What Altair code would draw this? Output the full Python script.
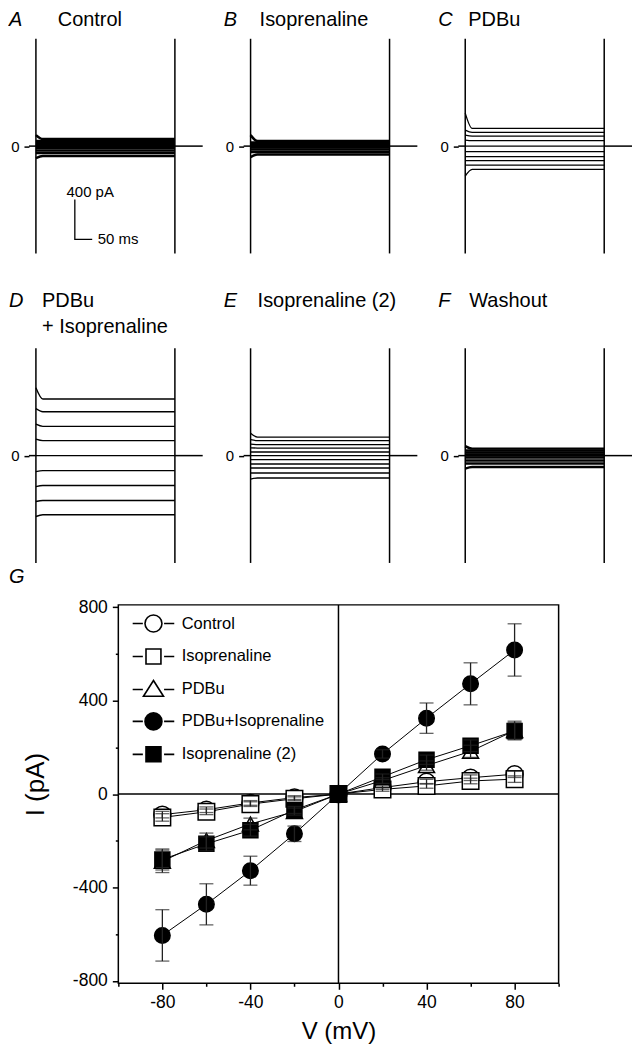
import altair as alt
import pandas as pd

FONT = "Liberation Sans"

# ---------------- Panels A-F : current traces ----------------
panel_ids = ["A", "B", "C", "D", "E", "F"]
panel_names = ["Control", "Isoprenaline", "PDBu", "PDBu\n+ Isoprenaline", "Isoprenaline (2)", "Washout"]

# steady-state current (pA) of each voltage step, and value at step onset
levels_A = [70, 50, 30, 12, 0, -20, -45, -70, -100]
onset_A = [110, 50, 30, 12, 0, -20, -45, -70, -120]
levels_B = [50, 35, 20, 8, 0, -15, -35, -60, -85]
onset_B = [110, 35, 20, 8, 0, -15, -35, -60, -110]
levels_C = [177, 137, 100, 54, 0, -56, -106, -146, -190, -233]
onset_C = [330, 160, 110, 60, 0, -56, -106, -146, -190, -300]
levels_D = [567, 440, 293, 150, 0, -150, -300, -450, -593]
onset_D = [680, 470, 315, 165, 0, -160, -310, -460, -610]
levels_E = [186, 150, 110, 76, 36, 0, -40, -84, -124, -174, -224]
onset_E = [225, 160, 115, 78, 36, 0, -40, -84, -124, -174, -235]
levels_F = [70, 50, 30, 12, 0, -20, -50, -80, -115]
onset_F = [95, 50, 30, 12, 0, -20, -50, -80, -130]

levels = [levels_A, levels_B, levels_C, levels_D, levels_E, levels_F]
onsets = [onset_A, onset_B, onset_C, onset_D, onset_E, onset_F]

# step protocol timing (ms)
T_MIN, STEP_ON, SETTLE, STEP_OFF, T_MAX = -20, 0, 20, 400, 480
edge_times = [STEP_ON, STEP_OFF]
baseline_seg = [0, 0, 1, 1]
baseline_t = [T_MIN, STEP_ON, STEP_OFF, T_MAX]
baseline_I = [0, 0, 0, 0]

# scale bar (400 pA, 50 ms) in panel A
sb_t = [112, 112, 162]
sb_I = [-535, -935, -935]
sb_text = ["400 pA", "50 ms"]
sb_text_t = [88, 178]
sb_text_I = [-505, -935]
sb_text_baseline = ["alphabetic", "middle"]

# styles / placement
trace_widths = [2.5, 2.5, 1.3, 1.4, 1.3, 2.5]
name_dx = [28.8, 16, 10, 13, 14, 11]
title_top = [-29, -29, -29, -57.8, -57.8, -57.8]
LETTER_DX = -20

rows = []
for pid, lv, on in zip(panel_ids, levels, onsets):
    for k, (i0, i1) in enumerate(zip(on, lv)):
        for t, val in ((STEP_ON, i0), (SETTLE, i1), (STEP_OFF, i1)):
            rows.append({"panel": pid, "trace": k, "t": t, "I": val})
traces = pd.DataFrame(rows)
baseline_df = pd.DataFrame({"seg": baseline_seg, "t": baseline_t, "I": baseline_I})
edges_df = pd.DataFrame({"t": edge_times})


def trace_panel(i):
    pid = panel_ids[i]
    sub = traces[traces["panel"] == pid]
    xs = alt.X("t:Q", scale=alt.Scale(domain=[T_MIN, T_MAX], nice=False, zero=False), axis=None)
    ys = alt.Y(
        "I:Q",
        scale=alt.Scale(domain=[-1075, 1075], nice=False),
        axis=alt.Axis(values=[0], title=None, domain=False, grid=False, tickSize=5,
                      tickWidth=1.5, tickColor="black", labelFontSize=15, labelColor="black",
                      labelPadding=5, labelFont=FONT, labelExpr="'' + datum.value"),
    )
    spikes = alt.Chart(edges_df).mark_rule(color="black", strokeWidth=1.5).encode(x=xs)
    lines = alt.Chart(sub).mark_line(color="black", strokeWidth=trace_widths[i],
                                     interpolate="monotone").encode(x=xs, y=ys, detail="trace:N")
    base = alt.Chart(baseline_df).mark_line(color="black", strokeWidth=1.5).encode(
        x=xs, y=ys, detail="seg:N")
    letter = alt.Chart(pd.DataFrame({"s": [pid]})).mark_text(
        font=FONT, fontSize=20, fontStyle="italic", align="left", baseline="top",
        color="black").encode(x=alt.value(LETTER_DX), y=alt.value(title_top[i]), text="s:N")
    name_props = dict(font=FONT, fontSize=20, align="left", baseline="top", color="black")
    if "\n" in panel_names[i]:
        name_props.update(lineBreak="\n", lineHeight=26)
    name = alt.Chart(pd.DataFrame({"s": [panel_names[i]]})).mark_text(**name_props).encode(
        x=alt.value(name_dx[i]), y=alt.value(title_top[i]), text="s:N")
    layers = [spikes, lines, base, letter, name]
    if pid == "A":
        sb = alt.Chart(pd.DataFrame({"t": sb_t, "I": sb_I, "o": [0, 1, 2]})).mark_line(
            color="black", strokeWidth=1.3).encode(x=xs, y=ys, order="o:Q")
        layers.append(sb)
        for txt, tt, ii, bl in zip(sb_text, sb_text_t, sb_text_I, sb_text_baseline):
            layers.append(alt.Chart(pd.DataFrame({"t": [tt], "I": [ii], "s": [txt]})).mark_text(
                font=FONT, fontSize=15, align="left", baseline=bl, color="black").encode(
                x=xs, y=ys, text="s:N"))
    return alt.layer(*layers).properties(width=174, height=215)


# ---------------- Panel G : I-V relationship ----------------
V = [-80, -60, -40, -20, 0, 20, 40, 60, 80]
series_names = ["Control", "Isoprenaline", "PDBu", "PDBu+Isoprenaline", "Isoprenaline (2)"]
I_control = [-88, -67, -38, -15, 0, 28, 53, 70, 85]
I_iso = [-100, -76, -43, -20, 0, 20, 35, 56, 64]
I_pdbu = [-288, -199, -128, -75, 0, 58, 122, 183, 272]
I_pdbu_iso = [-605, -472, -328, -170, 0, 172, 325, 472, 617]
I_iso2 = [-280, -213, -155, -68, 0, 74, 147, 207, 270]
sem_control = [14, 12, 10, 8, 0, 8, 10, 12, 14]
sem_iso = [16, 12, 10, 8, 0, 8, 10, 12, 14]
sem_pdbu = [48, 32, 25, 15, 0, 12, 20, 26, 40]
sem_pdbu_iso = [110, 88, 62, 33, 0, 18, 65, 90, 112]
sem_iso2 = [45, 30, 25, 15, 0, 12, 20, 25, 35]

I_all = [I_control, I_iso, I_pdbu, I_pdbu_iso, I_iso2]
sem_all = [sem_control, sem_iso, sem_pdbu, sem_pdbu_iso, sem_iso2]

shapes = ["circle", "square", "triangle-up", "circle", "square"]
fills = ["white", "white", "white", "black", "black"]
sizes = [290, 225, 300, 380, 240]

# legend symbols: marker with a short dash on each side ("-o-")
DASH = "M-2.45,0H-1.25M1.25,0H2.45"
CIRC = "M1,0A1,1,0,1,1,-1,0A1,1,0,1,1,1,0Z"
SQ = "M-0.88,-0.88H0.88V0.88H-0.88Z"
TRI = "M0,-1.05L1.18,0.8L-1.18,0.8Z"
legend_shapes = [DASH + CIRC, DASH + SQ, DASH + TRI, DASH + CIRC, DASH + SQ]

g_rows = []
for s, Is, Es in zip(series_names, I_all, sem_all):
    for v, ii, e in zip(V, Is, Es):
        g_rows.append({"series": s, "V": v, "I": ii, "lo": ii - e, "hi": ii + e, "err": e})
gdf = pd.DataFrame(g_rows)
edf = gdf[gdf["err"] > 0]

x_ticks = list(range(-100, 101, 20))
y_ticks = list(range(-800, 801, 200))

gx_axis = alt.Axis(values=x_ticks, labelExpr="datum.value % 40 === 0 ? '' + datum.value : ''",
                   tickSize={"condition": {"test": "datum.value % 40 === 0", "value": 6}, "value": 3},
                   tickWidth=1.5, tickColor="black", domain=False, grid=False, labelFont=FONT,
                   labelFontSize=17.5, labelColor="black", labelPadding=4, labelFlush=False,
                   labelOverlap=False, title="V (mV)", titleFont=FONT, titleFontSize=24,
                   titleFontWeight="normal", titleColor="black", titlePadding=9)
gy_axis = alt.Axis(values=y_ticks, labelExpr="datum.value % 400 === 0 ? '' + datum.value : ''",
                   tickSize={"condition": {"test": "datum.value % 400 === 0", "value": 6}, "value": 3},
                   tickWidth=1.5, tickColor="black", domain=False, grid=False, labelFont=FONT,
                   labelFontSize=17.5, labelColor="black", labelPadding=5, labelFlush=False,
                   labelOverlap=False, title=None)
gxs = alt.Scale(domain=[-100, 100], nice=False, zero=False)
gys = alt.Scale(domain=[-810, 810], nice=False, zero=False)

leg = alt.Legend(title=None, orient="none", legendX=25.7, legendY=9.2, padding=0, rowPadding=9,
                 symbolSize=289, labelOffset=18.8, labelFont=FONT, labelFontSize=16.5,
                 labelColor="black", symbolStrokeColor="black", symbolStrokeWidth=1.6,
                 symbolOpacity=1)

X = alt.X("V:Q", scale=gxs, axis=gx_axis)
Y = alt.Y("I:Q", scale=gys, axis=gy_axis)

cross_v = alt.Chart(pd.DataFrame({"V": [0]})).mark_rule(color="black", strokeWidth=1.5).encode(x=X)
cross_h = alt.Chart(pd.DataFrame({"I": [0]})).mark_rule(color="black", strokeWidth=1.5).encode(y=Y)
g_lines = alt.Chart(gdf).mark_line(color="black", strokeWidth=1).encode(x=X, y=Y, detail="series:N")
g_points = alt.Chart(gdf).mark_point(filled=True, stroke="black", strokeWidth=1.5, opacity=1).encode(
    x=X, y=Y,
    shape=alt.Shape("series:N", scale=alt.Scale(domain=series_names, range=shapes), legend=None),
    fill=alt.Fill("series:N", scale=alt.Scale(domain=series_names, range=fills), legend=None),
    size=alt.Size("series:N", scale=alt.Scale(domain=series_names, range=sizes), legend=None),
)
# invisible layer that only drives the legend (dash-marker-dash symbols)
g_legend = alt.Chart(gdf).mark_point(filled=True, strokeWidth=1.6, opacity=0, size=289).encode(
    x=X, y=Y,
    shape=alt.Shape("series:N", scale=alt.Scale(domain=series_names, range=legend_shapes), legend=leg),
    fill=alt.Fill("series:N", scale=alt.Scale(domain=series_names, range=fills), legend=leg),
    stroke=alt.Stroke("series:N", scale=alt.Scale(domain=series_names, range=["black"] * 5), legend=leg),
)
err_rule = alt.Chart(edf).mark_rule(color="#222", strokeWidth=1.3).encode(
    x=X, y=alt.Y("lo:Q", scale=gys, axis=gy_axis), y2="hi:Q")
cap_lo = alt.Chart(edf).mark_tick(orient="horizontal", size=14, thickness=1.3, color="#222").encode(
    x=X, y=alt.Y("lo:Q", scale=gys, axis=gy_axis))
cap_hi = alt.Chart(edf).mark_tick(orient="horizontal", size=14, thickness=1.3, color="#222").encode(
    x=X, y=alt.Y("hi:Q", scale=gys, axis=gy_axis))

g_chart = alt.layer(cross_v, cross_h, g_lines, g_points, err_rule, cap_lo, cap_hi, g_legend
                    ).resolve_scale(shape="independent", fill="independent", stroke="independent"
                    ).properties(width=441, height=379,
                                 view=alt.ViewBackground(stroke="black", strokeWidth=1.5))

# left strip of panel G: panel letter and y-axis title
g_side = alt.layer(
    alt.Chart(pd.DataFrame({"s": ["G"]})).mark_text(
        font=FONT, fontSize=20, fontStyle="italic", align="left", baseline="top",
        color="black").encode(x=alt.value(-20), y=alt.value(-38.1), text="s:N"),
    alt.Chart(pd.DataFrame({"s": ["I (pA)"]})).mark_text(
        font=FONT, fontSize=26, angle=270, align="center", baseline="middle",
        color="black").encode(x=alt.value(7.5), y=alt.value(180), text="s:N"),
).properties(width=25, height=379)

g_row = alt.hconcat(g_side, g_chart, spacing=16.5)

grid = alt.concat(*[trace_panel(i) for i in range(6)], columns=3,
                  spacing=alt.RowColnumber(row=34, column=16)).properties(align="each", bounds="full")

chart = alt.concat(grid, g_row, columns=1, spacing=1).properties(
    bounds="full", padding=0
).configure(font=FONT).configure_view(stroke="transparent")

chart.save("out.html", embed_options={"renderer": "svg", "actions": False})
